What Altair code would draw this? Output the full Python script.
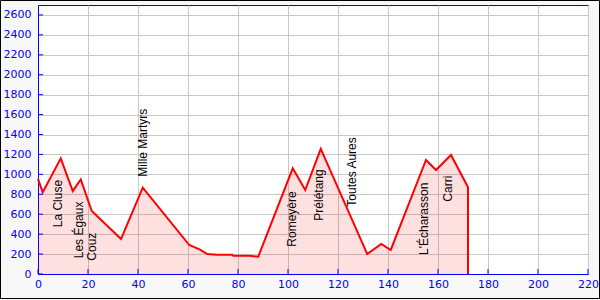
import altair as alt
import pandas as pd

# Elevation profile (distance km, elevation m)
dist = [0, 1.9, 9.1, 13.9, 17.1, 21.5, 33.2, 41.9, 60.5, 64.8, 67.7, 71.5, 77.7, 78.1,
        84.5, 88.1, 101.9, 106.9, 113.1, 131.7, 137.3, 141.1, 155.2, 159.2, 165.2, 172.0, 172.0]
elev = [954, 820, 1161, 833, 950, 632, 351, 867, 291, 245, 200, 194, 194, 184,
        184, 174, 1061, 843, 1255, 200, 301, 241, 1145, 1044, 1195, 870, 0]

# Place names (rotated labels)
names = ["La Cluse", "Les Égaux", "Couz", "Mille Martyrs", "Romeyère", "Prélétang",
         "Toutes Aures", "L'Écharasson", "Carri"]
name_x = [8.1, 16.4, 21.7, 41.9, 101.5, 112.4, 125.5, 154.4, 164.1]
name_y = [469, 158, 134, 977, 274, 535, 676, 191, 726]

x_ticks = list(range(0, 221, 20))
y_ticks = list(range(0, 2601, 200))

profile = pd.DataFrame({"d": dist, "e": elev, "i": list(range(len(dist)))})
labels = pd.DataFrame({"name": names, "x": name_x, "y": name_y})

xs = alt.Scale(domain=[0, 220], nice=False, zero=False)
ys = alt.Scale(domain=[0, 2700], nice=False)

FONT = "DejaVu Sans"

xaxis = alt.Axis(values=x_ticks, grid=True, gridColor="#c8c8c8", ticks=False, format="d",
                 domainColor="blue", labelColor="blue", labelFontSize=11, labelFont=FONT,
                 title=None, labelPadding=4, labelFlush=False, labelOverlap=False)
yaxis = alt.Axis(values=y_ticks, grid=True, gridColor="#c8c8c8", ticks=False, format="d",
                 domainColor="blue", labelColor="blue", labelFontSize=11, labelFont=FONT,
                 title=None, labelPadding=7, labelFlush=False, labelOverlap=False)

area = alt.Chart(profile).mark_area(fill="red", fillOpacity=0.12).encode(
    x=alt.X("d:Q", scale=xs, axis=xaxis),
    y=alt.Y("e:Q", scale=ys, axis=yaxis),
)

line = alt.Chart(profile).mark_line(color="red", strokeWidth=2).encode(
    x=alt.X("d:Q", scale=xs, axis=xaxis),
    y=alt.Y("e:Q", scale=ys, axis=yaxis),
    order="i:Q",
)

text = alt.Chart(labels).mark_text(
    angle=270, align="left", baseline="middle", fontSize=12, font="Liberation Sans", color="black"
).encode(
    x=alt.X("x:Q", scale=xs, axis=xaxis),
    y=alt.Y("y:Q", scale=ys, axis=yaxis),
    text="name:N",
)

ytick = alt.Chart(pd.DataFrame({"v": y_ticks})).mark_rule(color="blue").encode(
    y=alt.Y("v:Q", scale=ys, axis=yaxis), x=alt.value(0), x2=alt.value(5)
)
xtick = alt.Chart(pd.DataFrame({"v": x_ticks})).mark_rule(color="blue").encode(
    x=alt.X("v:Q", scale=xs, axis=xaxis), y=alt.value(269), y2=alt.value(264)
)

frame = alt.Chart(pd.DataFrame({"a": [0]})).mark_rect(
    fillOpacity=0, stroke="black", strokeWidth=1
).encode(
    x=alt.value(-37.5), x2=alt.value(561.5), y=alt.value(-4.5), y2=alt.value(293.5)
)

chart = alt.layer(area, line, text, ytick, xtick, frame).properties(
    width=550, height=269,
    autosize=alt.AutoSizeParams(type="none"),
    padding={"left": 38, "top": 5, "right": 12, "bottom": 26},
).configure(background="#f8f8f8").configure_view(fill="white", stroke="blue", strokeWidth=1)

chart.save("out.html", embed_options={"renderer": "svg", "actions": False})
